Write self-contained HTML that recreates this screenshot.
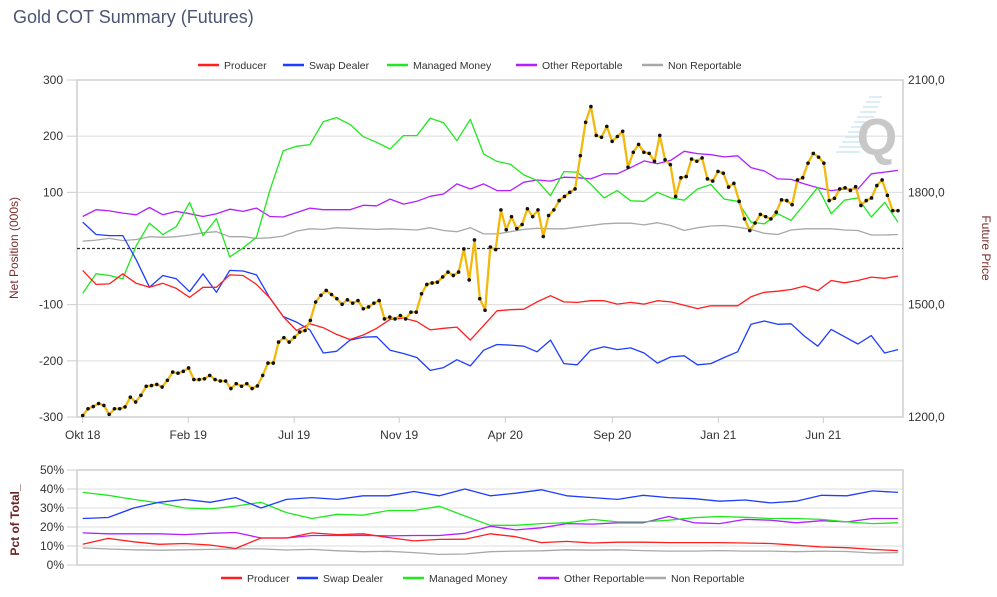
<!DOCTYPE html>
<html><head><meta charset="utf-8"><style>
html,body{margin:0;padding:0;background:#fff;}
body{width:997px;height:592px;overflow:hidden;font-family:"Liberation Sans",Arial,sans-serif;}
text{font-family:"Liberation Sans",Arial,sans-serif;}
</style></head><body>
<svg id="chart" width="997" height="592" viewBox="0 0 997 592">
<text x="13" y="23" font-size="18" fill="#4a5673">Gold COT Summary (Futures)</text>
<g id="legendTop"></g>
<g id="main"></g>
<g id="pct"></g>
<g id="legendBot"></g>
</svg>
<script>
// ---- main panel data (000s contracts), ~62 samples Oct 2018 -> Sep 2021
const producerNet=[-39,-64,-63,-45,-62,-69,-62,-71,-87,-69,-69,-47,-48,-64,-88,-121,-146,-134,-141,-153,-162,-154,-142,-126,-124,-130,-145,-142,-140,-163,-137,-111,-109,-108,-95,-84,-95,-96,-93,-93,-99,-96,-99,-93,-95,-101,-107,-102,-102,-102,-86,-78,-76,-73,-67,-75,-57,-61,-57,-51,-53,-49];
const swapNet=[47,25,23,23,-20,-69,-48,-54,-77,-45,-78,-39,-40,-47,-88,-121,-131,-145,-186,-183,-163,-158,-157,-181,-187,-194,-217,-212,-198,-209,-181,-171,-172,-174,-184,-163,-205,-207,-181,-175,-180,-177,-186,-204,-193,-191,-207,-205,-194,-184,-135,-129,-135,-134,-156,-174,-144,-157,-170,-155,-186,-180];
const managedNet=[-80,-45,-48,-54,5,45,25,39,82,23,53,-15,1,20,103,174,182,185,226,233,221,199,189,177,201,201,232,224,192,230,168,155,150,131,121,94,137,136,115,90,103,85,84,100,90,86,106,114,88,84,47,44,62,50,79,109,62,86,90,56,82,47];
const otherNet=[57,69,67,63,60,73,60,66,62,57,62,70,66,72,57,56,64,72,69,69,69,77,76,88,79,84,93,97,115,106,115,103,103,118,122,120,127,126,124,133,133,144,156,151,157,173,169,167,163,165,144,138,124,123,115,108,103,106,106,133,136,139];
const nonRepNet=[13,15,18,14,16,21,20,21,24,28,30,21,21,18,19,22,31,35,34,37,36,35,34,35,34,33,37,32,30,37,26,26,30,34,36,35,35,38,41,44,45,45,42,46,41,32,37,40,41,38,34,27,25,33,35,35,35,33,32,24,24,25];
// weekly gold futures price
const goldPrice=[1204,1222,1228,1236,1231,1207,1222,1222,1227,1253,1240,1258,1282,1284,1287,1280,1298,1320,1317,1322,1331,1300,1300,1302,1311,1300,1296,1296,1276,1289,1282,1289,1276,1283,1311,1344,1344,1400,1412,1400,1413,1427,1431,1458,1507,1525,1538,1527,1516,1501,1513,1504,1511,1489,1494,1504,1511,1462,1467,1462,1471,1462,1480,1480,1529,1554,1558,1560,1574,1587,1578,1587,1649,1566,1673,1516,1485,1654,1647,1753,1700,1735,1703,1714,1756,1735,1753,1682,1738,1753,1778,1789,1800,1809,1898,1987,2029,1952,1947,1976,1936,1949,1963,1867,1907,1928,1907,1904,1883,1952,1887,1874,1789,1839,1842,1889,1883,1892,1836,1830,1856,1851,1814,1824,1776,1729,1698,1718,1741,1735,1729,1747,1780,1778,1767,1833,1839,1878,1904,1894,1878,1778,1784,1809,1812,1805,1815,1765,1778,1785,1818,1833,1792,1751,1751];
const leftTicks=[300,200,100,-100,-200,-300];
const rightTicks=["2100,0","1800,0","1500,0","1200,0"];
const rightTickVals=[2100,1800,1500,1200];
const xLabels=["Okt 18","Feb 19","Jul 19","Nov 19","Apr 20","Sep 20","Jan 21","Jun 21"];
const xLabelFrac=[0,0.1294,0.2594,0.3882,0.5183,0.6496,0.7796,0.9084];
// ---- pct panel data (%)
const producerPct=[10.9,14,12.2,10.9,11.3,10.5,8.7,14.2,14.2,16.9,16,16.4,14.5,12.7,13.5,13.6,16.4,14.9,11.8,12.4,11.6,12,12,11.8,11.8,11.8,11.6,11.3,10.4,9.5,9.1,8.2,7.6];
const swapPct=[24.5,25,30,33,34.5,33,35.5,30,34.5,35.5,34.5,36.4,36.4,38.7,36.4,40,36.4,37.8,39.6,36.4,35.5,34.5,36.7,35.5,34.9,33.6,34.2,32.7,33.6,36.7,36.4,39,38.2];
const managedPct=[38.2,36.7,34.5,32.7,30,29.5,31,33,27.6,24.5,26.7,26.2,28.7,28.7,30.9,25.8,20.9,20.9,21.8,22.2,24,22.7,22.7,23.6,24.9,25.5,25.1,24.5,24.5,24,22.7,21.8,22.2];
const otherPct=[16.9,16.4,16.4,16.4,16,16.7,17.1,14.2,14.2,15.5,15.5,15.6,15.3,15.5,15.5,16.7,20.4,18.5,19.6,21.8,21.5,22.2,22.2,25.5,22.2,21.8,24,23.6,22.2,23.3,22.7,24.5,24.5];
const nonRepPct=[9,8.4,8,7.8,8,8.2,8.5,8.5,7.9,8.2,7.5,7,7.2,6.5,5.6,5.8,7,7.3,7.5,8,7.8,8,7.6,7.3,7.3,7.6,7.3,7.3,7,7.3,7.1,6.3,6.5];
const pctTicks=[0,10,20,30,40,50];
const seriesNames=["Producer","Swap Dealer","Managed Money","Other Reportable","Non Reportable"];
const seriesColors=["#ff1f1f","#1f3dff","#1fe81f","#b21fff","#a8a8a8"];

const NS="http://www.w3.org/2000/svg";
function mk(tag,attrs,parent){const e=document.createElementNS(NS,tag);for(const k in attrs)e.setAttribute(k,attrs[k]);parent.appendChild(e);return e;}
const L=77,R=903,T=80,B=417,X0=82.7,X1=898;
const yL=v=>248.5-v*(B-T)/600;
const yR=p=>B-(p-1200)*(B-T)/900;
const xIdx=(i,n)=>X0+i*(X1-X0)/(n-1);
const PT=470,PB=565;
const yP=v=>PB-v*(PB-PT)/50;

const main=document.getElementById('main');
for(const v of leftTicks){
  const g=mk('line',{x1:L,x2:R,y1:yL(v),y2:yL(v),stroke:'#dcdcdc','stroke-width':1},main);
  
  
}
const fr=mk('rect',{x:L,y:T,width:R-L,height:B-T,fill:'none',stroke:'#cfcfcf','stroke-width':1.5},main);


const wq=mk('g',{},main);


for(let k=0;k<12;k++){mk('line',{x1:836+k*3,x2:860+k*2,y1:152-k*5,y2:152-k*5,stroke:'#cfe8f6','stroke-width':1.5},wq);}
const qt=mk('text',{x:877,y:155,'font-size':52,'font-weight':'bold','text-anchor':'middle',fill:'#c8c8c8'},wq);qt.textContent='Q';
const z=mk('line',{x1:L,x2:R,y1:yL(0),y2:yL(0),stroke:'#333','stroke-width':1.2,'stroke-dasharray':'3,2'},main);


for(let i=0;i<leftTicks.length;i++){
  const v=leftTicks[i];
  const t=mk('text',{x:63,y:yL(v)+4,'font-size':12,'text-anchor':'end',fill:'#333'},main);t.textContent=String(v);
  
  
  mk('line',{x1:67,x2:L,y1:yL(v),y2:yL(v),stroke:'#ccc'},main);
}
for(let i=0;i<rightTicks.length;i++){
  const t=mk('text',{x:908,y:yR(rightTickVals[i])+4,'font-size':12,fill:'#333'},main);t.textContent=rightTicks[i];
  
  
}
for(let i=0;i<xLabels.length;i++){
  const x=X0+xLabelFrac[i]*(X1-X0);
  mk('line',{x1:x,x2:x,y1:B,y2:B+6,stroke:'#ccc'},main);
  const t=mk('text',{x:x,y:439,'font-size':12,'text-anchor':'middle',fill:'#333'},main);t.textContent=xLabels[i];
  
  
}
const yt=mk('text',{x:0,y:0,'font-size':12,'text-anchor':'middle',fill:'#7a2e2e',transform:'translate(18,248) rotate(-90)'},main);yt.textContent='Net Position (000s)';


const yt2=mk('text',{x:0,y:0,'font-size':12,'text-anchor':'middle',fill:'#7a2e2e',transform:'translate(982,248) rotate(90)'},main);yt2.textContent='Future Price';



function drawSeries(parent,arr,yfn,color,name,w){
  const pts=arr.map((v,i)=>xIdx(i,arr.length).toFixed(1)+','+yfn(v).toFixed(1)).join(' ');
  const p=mk('polyline',{points:pts,fill:'none',stroke:color,'stroke-width':w,'stroke-linejoin':'round'},parent);
  
  
}
const mainSeries=[producerNet,swapNet,managedNet,otherNet,nonRepNet];
const mainNames=['producer-line','swap-dealer-line','managed-money-line','other-reportable-line','non-reportable-line'];
for(let s=4;s>=0;s--)drawSeries(main,mainSeries[s],yL,seriesColors[s],mainNames[s],1.3);
drawSeries(main,goldPrice,yR,'#f2b90c','gold-price-line',2.3);
const gm=mk('g',{},main);


goldPrice.forEach((v,i)=>{
  const c=mk('circle',{cx:xIdx(i,goldPrice.length),cy:yR(v),r:1.8,fill:'#111'},gm);
  
  
});

const pct=document.getElementById('pct');
for(const v of pctTicks){
  mk('line',{x1:L,x2:R,y1:yP(v),y2:yP(v),stroke:'#dcdcdc'},pct);
  mk('line',{x1:67,x2:L,y1:yP(v),y2:yP(v),stroke:'#ccc'},pct);
  const t=mk('text',{x:64,y:yP(v)+4,'font-size':12,'text-anchor':'end',fill:'#333'},pct);t.textContent=v+'%';
  
  
}
const pf=mk('rect',{x:L,y:PT,width:R-L,height:PB-PT,fill:'none',stroke:'#cfcfcf','stroke-width':1.5},pct);


const pt=mk('text',{x:0,y:0,'font-size':12,'font-weight':'bold','text-anchor':'middle',fill:'#6b2222',transform:'translate(19,520) rotate(-90)'},pct);pt.textContent='Pct of Total_';


const pctSeries=[producerPct,swapPct,managedPct,otherPct,nonRepPct];
const pctNames=['producer-pct-line','swap-dealer-pct-line','managed-money-pct-line','other-reportable-pct-line','non-reportable-pct-line'];
for(let s=4;s>=0;s--)drawSeries(pct,pctSeries[s],yP,seriesColors[s],pctNames[s],1.3);

function legend(gid,y,xs){
  const g=document.getElementById(gid);
  for(let i=0;i<5;i++){
    const e=mk('g',{},g);
    
    
    mk('line',{x1:xs[i],x2:xs[i]+21,y1:y,y2:y,stroke:seriesColors[i],'stroke-width':2.5},e);
    const t=mk('text',{x:xs[i]+26,y:y+4,'font-size':10.5,fill:'#333'},e);t.textContent=seriesNames[i];
  }
}
legend('legendTop',65,[198,283,387,516,642]);
legend('legendBot',578,[221,297,403,538,645]);
</script>
</body></html>
